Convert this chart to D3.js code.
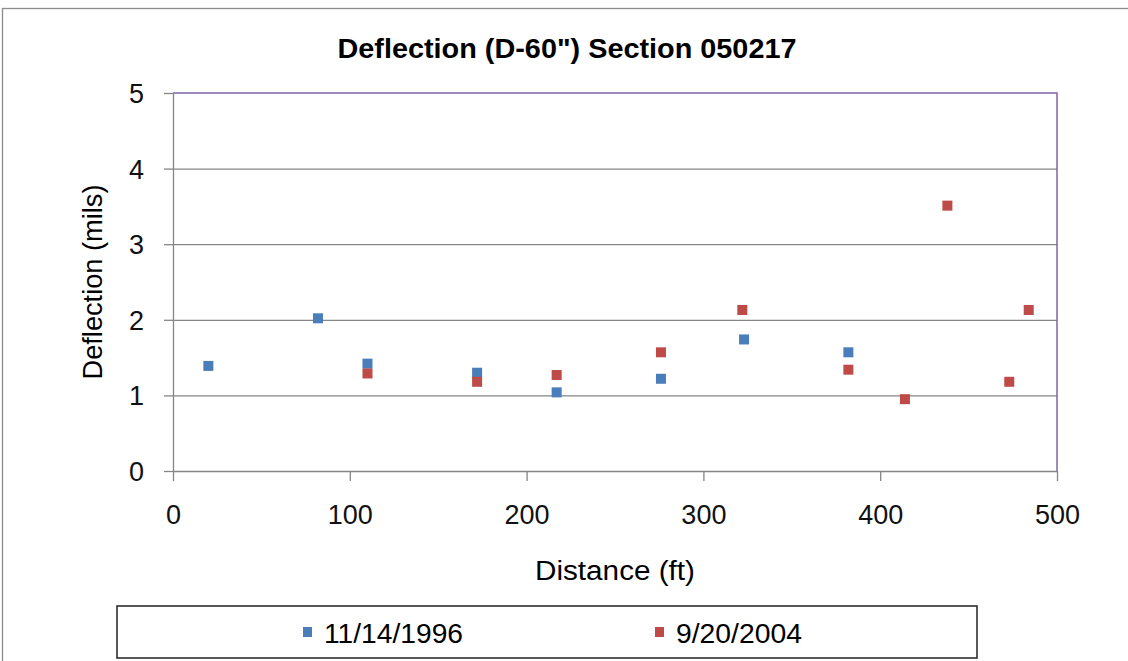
<!DOCTYPE html>
<meta charset="utf-8">
<style>
body { margin: 0; background: #fff; }
text { font-family: "Liberation Sans", Arial, sans-serif; fill: #000; }
.grid line { stroke: #868686; stroke-width: 1.3px; }
.grid .domain { display: none; }
.axis .domain, .axis line { stroke: #868686; stroke-width: 1.3px; }
.axis text { font-size: 27px; fill: #111; }
</style>
<body>
<svg width="1128" height="661"></svg>
<script src="https://d3js.org/d3.v7.min.js"></script>
<script>

// data
var series = ["11/14/1996", "9/20/2004"]
var colors = ["#4a7ebb", "#be4b48"]
var dist1996 = [20, 82, 110, 172, 217, 276, 323, 382]
var defl1996 = [1.39, 2.02, 1.42, 1.30, 1.04, 1.22, 1.74, 1.57]
var dist2004 = [110, 172, 217, 276, 322, 382, 414, 438, 473, 484]
var defl2004 = [1.29, 1.18, 1.27, 1.57, 2.13, 1.34, 0.95, 3.51, 1.18, 2.13]
var xTicks = [0, 100, 200, 300, 400, 500]
var yTicks = [0, 1, 2, 3, 4, 5]

var svg = d3.select("svg")
var pl = 173, pr = 1057, pt = 93, pb = 471

var x = d3.scaleLinear().domain([0, 500]).range([pl, pr])
var y = d3.scaleLinear().domain([0, 5]).range([pb, pt])

// outer chart frame
svg.append("rect")
    .attr("x", 2.5).attr("y", 8.5)
    .attr("width", 1200).attr("height", 800)
    .attr("fill", "#fff").attr("stroke", "#8c8c8c").attr("stroke-width", 1.3)

// title
svg.append("text")
    .attr("x", 567).attr("y", 58)
    .attr("text-anchor", "middle")
    .style("font-size", "28px").style("font-weight", "bold")
    .attr("textLength", 459).attr("lengthAdjust", "spacingAndGlyphs")
    .text('Deflection (D-60") Section 050217')

// gridlines
svg.append("g")
    .attr("class", "grid")
    .attr("transform", "translate(" + pl + ",0)")
    .call(d3.axisLeft(y).tickValues(yTicks.slice(1, 5)).tickSize(-(pr - pl)).tickFormat(""))

// plot border top / right
svg.append("path")
    .attr("d", "M" + pl + "," + pt + "H" + pr + "V" + pb)
    .attr("fill", "none").attr("stroke", "#8064a2").attr("stroke-width", 1.5)

// axes
var yAxis = svg.append("g")
    .attr("class", "axis")
    .attr("transform", "translate(" + pl + ",0)")
    .call(d3.axisLeft(y).tickValues(yTicks).tickFormat(d3.format("d"))
      .tickSize(9).tickSizeOuter(0).tickPadding(20))
yAxis.selectAll("text").attr("dy", "0.35em")

var xAxis = svg.append("g")
    .attr("class", "axis")
    .attr("transform", "translate(0," + pb + ")")
    .call(d3.axisBottom(x).tickValues(xTicks).tickFormat(d3.format("d"))
      .tickSize(10).tickSizeOuter(0).tickPadding(24))
xAxis.selectAll("text").attr("dy", "0.71em")

// axis titles
svg.append("text")
    .attr("x", (pl + pr) / 2).attr("y", 580)
    .attr("text-anchor", "middle")
    .style("font-size", "27px")
    .attr("textLength", 160).attr("lengthAdjust", "spacingAndGlyphs")
    .text("Distance (ft)")

svg.append("text")
    .attr("transform", "translate(102," + (pt + pb) / 2 + ") rotate(-90)")
    .attr("text-anchor", "middle")
    .style("font-size", "27px")
    .attr("textLength", 195).attr("lengthAdjust", "spacingAndGlyphs")
    .text("Deflection (mils)")

// markers
var pts = [
  d3.zip(dist1996, defl1996),
  d3.zip(dist2004, defl2004)
]
var ms = 10
pts.forEach(function(p, i) {
  svg.append("g").selectAll("rect")
    .data(p)
    .enter().append("rect")
      .attr("x", d => x(d[0]) - ms / 2)
      .attr("y", d => y(d[1]) - ms / 2)
      .attr("width", ms).attr("height", ms)
      .attr("fill", colors[i])
})

// legend
var lg = svg.append("g")
lg.append("rect")
    .attr("x", 117).attr("y", 606)
    .attr("width", 860).attr("height", 52)
    .attr("fill", "#fff").attr("stroke", "#222").attr("stroke-width", 1.5)

var legX = [303, 655]
var legW = [139, 126]
series.forEach(function(s, i) {
  lg.append("rect")
      .attr("x", legX[i]).attr("y", 627)
      .attr("width", 9).attr("height", 10)
      .attr("fill", colors[i])
  lg.append("text")
      .attr("x", legX[i] + 21).attr("y", 643)
      .style("font-size", "27px")
      .attr("textLength", legW[i]).attr("lengthAdjust", "spacingAndGlyphs")
      .text(s)
})

</script>
</body>
